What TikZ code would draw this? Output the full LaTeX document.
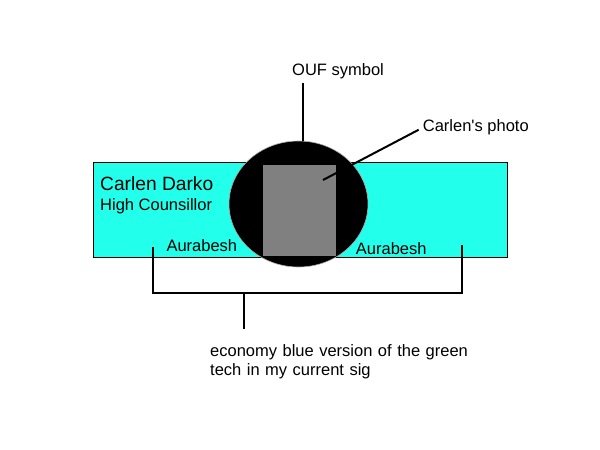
\documentclass[tikz,border=0pt]{standalone}
\usepackage{fontspec}
\setmainfont{Liberation Sans}
\usepackage{tikz}
\usetikzlibrary{shapes.geometric}
\definecolor{sigcyan}{HTML}{22FFEA}
\definecolor{photogray}{HTML}{808080}

\begin{document}
\begin{tikzpicture}[x=1pt,y=-1pt,
    lbl/.style={inner sep=0pt,anchor=base west,font=\fontsize{16.5}{19}\selectfont},
    lead/.style={draw=black,line width=2pt}]
  \useasboundingbox (0,0) rectangle (600,450);
  % signature banner
  \node[draw=black,line width=1pt,fill=sigcyan,minimum width=414pt,minimum height=95pt,inner sep=0pt] (sig) at (300,209.5) {};
  \node[ellipse,fill=black,draw=gray!60,line width=0.6pt,minimum width=139pt,minimum height=126pt,inner sep=0pt] (sym) at (298.5,204) {};
  \node[fill=photogray,minimum width=73pt,minimum height=91pt,inner sep=0pt] (photo) at (299.5,210.5) {};
  \node[lbl,font=\fontsize{19.2}{22}\selectfont] (name) at (100,190) {Carlen Darko};
  \node[lbl] (rank) at (100,210.7) {High Counsillor};
  \foreach \x/\y/\idx in {166.3/251.7/1,355.7/254/2}
    \node[lbl] (aura\idx) at (\x,\y) {Aurabesh};
  % callouts
  \node[lbl] (ouf) at (292,75) {OUF symbol};
  \node[lbl] (photolbl) at (422.7,131) {Carlen\textquotesingle s photo};
  \node[lbl,align=left,text width=300pt] (note) at (210,356.7) {economy blue version of the green\\tech in my current sig};
  \coordinate (oufend) at (303,83);
  \coordinate (photopt) at (323,180);
  \draw[lead] (oufend) -- (oufend |- sym.north);
  \draw[lead] ([xshift=-4pt,yshift=-3pt]photolbl.west) -- (photopt);
  % bracket under the banner
  \coordinate (brL) at (153,247);
  \coordinate (brR) at (462,245);
  \coordinate (stemtop) at (244,293);
  \coordinate (stembot) at (244,329);
  \draw[lead] (brL) -- (brL |- stemtop) -- (brR |- stemtop) -- (brR);
  \draw[lead] (stemtop) -- (stembot);
\end{tikzpicture}
\end{document}
